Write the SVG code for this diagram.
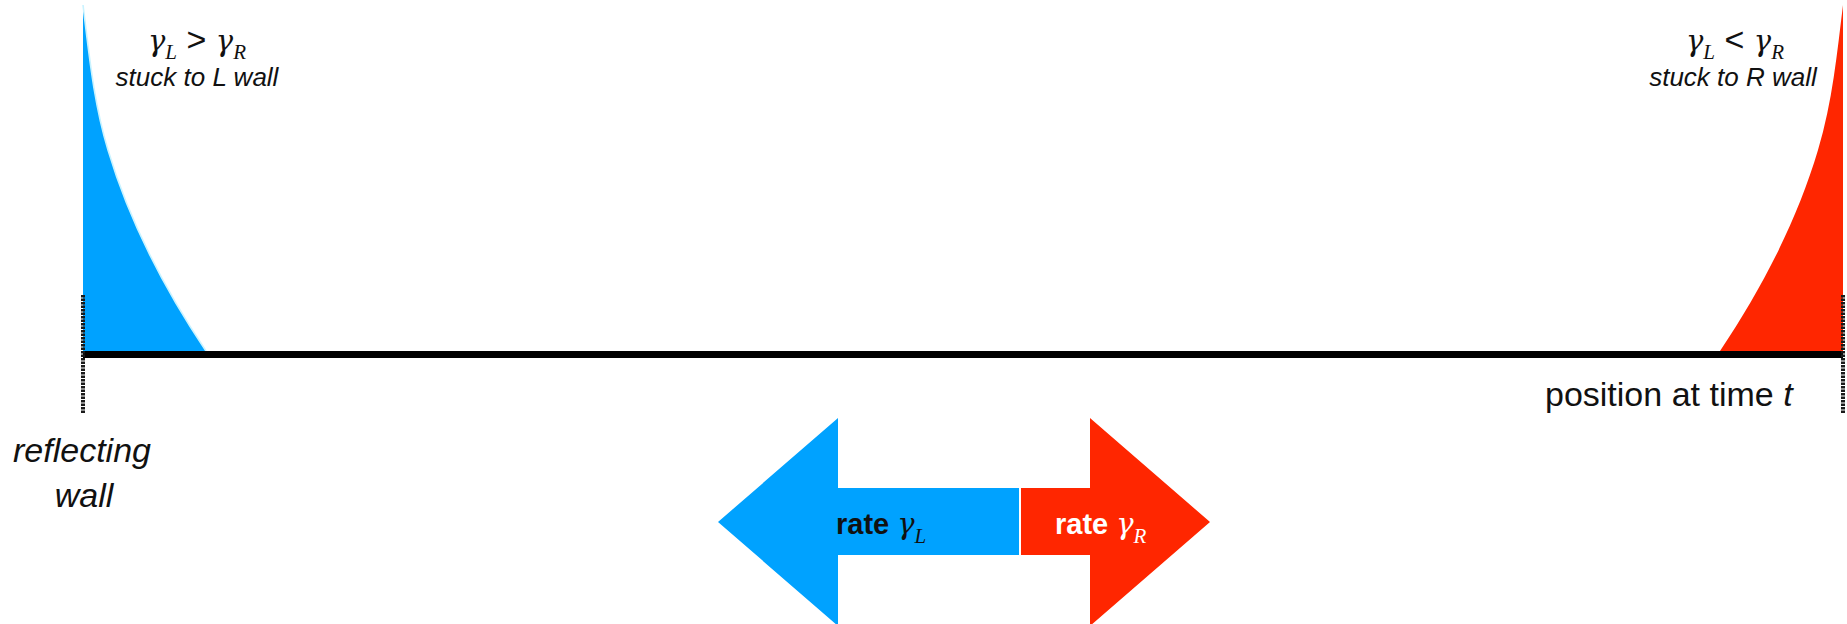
<svg xmlns="http://www.w3.org/2000/svg" xmlns:xlink="http://www.w3.org/1999/xlink" width="1847" height="624" viewBox="0 0 1847 624">
  <style>
    .lbl { font-family: "Liberation Sans", Arial, Helvetica, sans-serif; font-style: italic; font-size: 26px; fill: #111; }
    .big { font-family: "Liberation Sans", Arial, Helvetica, sans-serif; font-size: 34px; fill: #111; }
    .gam { font-family: "DejaVu Serif", "Liberation Serif", serif; font-style: italic; font-size: 29px; }
    .sub { font-family: "Liberation Serif", "Times New Roman", serif; font-style: italic; font-size: 21px; }
    .op { font-family: "Liberation Sans", Arial, sans-serif; font-style: normal; font-size: 34px; }
    .rate { font-family: "Liberation Sans", Arial, Helvetica, sans-serif; font-weight: bold; font-size: 29px; }
    .wall { stroke: #1a1a1a; stroke-width: 4; stroke-dasharray: 2.5 1; fill: none; }
    .edge { fill: none; stroke: #c9f3ff; stroke-width: 1.6; }
  </style>
  <defs>
    <!-- density profile hugging the left wall; mirrored for the right wall -->
    <path id="profile" d="M83,5 C89,53 93.5,102 108,150 C128,217 161,284 206,351 L83,351 Z"/>
    <path id="profile-edge" d="M83,5 C89,53 93.5,102 108,150 C128,217 161,284 206,351"/>
  </defs>

  <rect width="1847" height="624" fill="#ffffff"/>

  <!-- densities -->
  <g id="left-density">
    <use xlink:href="#profile" fill="#00A2FF"/>
    <use xlink:href="#profile-edge" class="edge"/>
  </g>
  <g id="right-density" transform="translate(1926,0) scale(-1,1)">
    <use xlink:href="#profile" fill="#FF2600"/>
  </g>

  <!-- position axis and reflecting walls -->
  <g id="axis">
    <line x1="83" y1="354.5" x2="1843" y2="354.5" stroke="#000" stroke-width="7"/>
  </g>
  <g id="left-wall">
    <line class="wall" x1="83" y1="295" x2="83" y2="413"/>
  </g>
  <g id="right-wall">
    <line class="wall" x1="1843" y1="295" x2="1843" y2="413"/>
  </g>

  <!-- labels -->
  <g id="left-label">
    <text x="197" y="51" text-anchor="middle" fill="#111"><tspan class="gam">γ</tspan><tspan class="sub" dy="8">L</tspan><tspan class="op" dy="-8"> &gt; </tspan><tspan class="gam">γ</tspan><tspan class="sub" dy="8">R</tspan></text>
    <text class="lbl" x="197" y="86" text-anchor="middle">stuck to L wall</text>
  </g>
  <g id="right-label">
    <text x="1735" y="51" text-anchor="middle" fill="#111"><tspan class="gam">γ</tspan><tspan class="sub" dy="8">L</tspan><tspan class="op" dy="-8"> &lt; </tspan><tspan class="gam">γ</tspan><tspan class="sub" dy="8">R</tspan></text>
    <text class="lbl" x="1733" y="86" text-anchor="middle">stuck to R wall</text>
  </g>
  <g id="position-label">
    <text class="big" x="1545" y="406">position at time <tspan font-style="italic">t</tspan></text>
  </g>
  <g id="wall-label">
    <text class="big" font-style="italic" x="82" y="462" text-anchor="middle">reflecting</text>
    <text class="big" font-style="italic" x="84" y="507" text-anchor="middle">wall</text>
  </g>

  <!-- jump arrows -->
  <g id="connectors">
    <g id="arrow-left">
      <polygon points="718,522 838,418 838,488 1019,488 1019,555 838,555 838,626" fill="#00A2FF"/>
      <text x="836" y="534" fill="#111"><tspan class="rate">rate </tspan><tspan class="gam">γ</tspan><tspan class="sub" dy="9">L</tspan></text>
    </g>
    <g id="arrow-right">
      <polygon points="1021,488 1090,488 1090,418 1210,522 1090,626 1090,555 1021,555" fill="#FF2600"/>
      <text x="1055" y="534" fill="#ffffff"><tspan class="rate">rate </tspan><tspan class="gam">γ</tspan><tspan class="sub" dy="9">R</tspan></text>
    </g>
  </g>
</svg>
